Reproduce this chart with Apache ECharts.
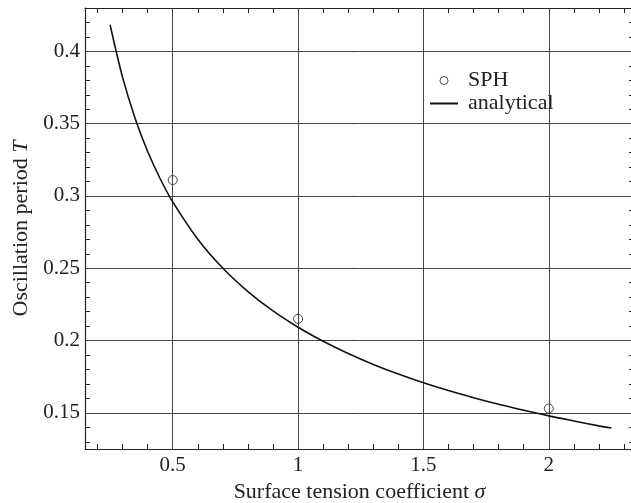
<!DOCTYPE html>
<html>
<head>
<meta charset="utf-8">
<title>Oscillation period</title>
<script src="https://cdn.jsdelivr.net/npm/echarts@6/dist/echarts.min.js"></script>
<style>
  html, body { margin: 0; padding: 0; background: #fff; }
  #chart { width: 631px; height: 503px; }
</style>
</head>
<body>
<div id="chart"></div>
<script>
// analytical curve
const sigma = [0.25, 0.3, 0.35, 0.4, 0.45, 0.5, 0.6, 0.7, 0.8, 0.9, 1.0, 1.1, 1.2, 1.3, 1.4, 1.5, 1.6, 1.7, 1.8, 1.9, 2.0, 2.1, 2.2, 2.25];
const analytical = [0.4184, 0.382, 0.3536, 0.3308, 0.3119, 0.2959, 0.2701, 0.25, 0.2339, 0.2205, 0.2092, 0.1995, 0.191, 0.1835, 0.1768, 0.1708, 0.1654, 0.1605, 0.1559, 0.1518, 0.1479, 0.1444, 0.141, 0.1395];

// SPH points
const sphSigma = [0.5, 1, 2];
const sphPeriod = [0.311, 0.215, 0.153];

const xTicks = [0.5, 1, 1.5, 2];
const xMinorTicks = [0.2, 0.3, 0.4, 0.6, 0.7, 0.8, 0.9, 1.1, 1.2, 1.3, 1.4, 1.6, 1.7, 1.8, 1.9, 2.1, 2.2, 2.3];
const yTicks = [0.15, 0.2, 0.25, 0.3, 0.35, 0.4];
const yMinorTicks = [0.13, 0.14, 0.16, 0.17, 0.18, 0.19, 0.21, 0.22, 0.23, 0.24, 0.26, 0.27, 0.28, 0.29, 0.31, 0.32, 0.33, 0.34, 0.36, 0.37, 0.38, 0.39, 0.41, 0.42];

const xMin = 0.15, xMax = 2.34;
const yMin = 0.125, yMax = 0.43;

const font = '"Liberation Serif", "Times New Roman", serif';
const ink = '#222';
const gridColor = '#444';

const chart = echarts.init(document.getElementById('chart'));

const hidden = { show: false };

const titleStyle = {
  fontFamily: font, fontSize: 22, color: ink,
  rich: { i: { fontFamily: font, fontSize: 22, fontStyle: 'italic', color: ink } }
};

// axis that only draws the small inside ticks
const tickAxis = (position, values, min, max, line) => ({
  type: 'value',
  position: position,
  min: min,
  max: max,
  axisLine: { show: line, onZero: false, lineStyle: { color: ink, width: 1.2 } },
  axisTick: { show: true, inside: true, length: 5, customValues: values, lineStyle: { color: ink } },
  axisLabel: hidden,
  splitLine: hidden
});

const option = {
  animation: false,
  backgroundColor: '#fff',
  grid: { left: 85, top: 8, width: 549, height: 441, containLabel: false, outerBoundsMode: 'none' },
  legend: {
    orient: 'vertical',
    left: 424,
    top: 64,
    itemWidth: 28,
    itemHeight: 8,
    itemGap: 0,
    selectedMode: false,
    textStyle: { fontFamily: font, fontSize: 22, color: ink, lineHeight: 23, padding: [0, 0, 0, 5] },
    data: [
      { name: 'SPH', itemStyle: { color: 'rgba(0,0,0,0)', borderColor: ink, borderWidth: 1 } },
      { name: 'analytical', itemStyle: { color: 'rgba(0,0,0,0)', borderWidth: 0, opacity: 0 } }
    ]
  },
  xAxis: [
    {
      type: 'value',
      position: 'bottom',
      min: xMin,
      max: xMax,
      name: 'Surface tension coefficient {i|σ}',
      nameLocation: 'middle',
      nameGap: 28,
      nameTextStyle: titleStyle,
      axisLine: { show: true, onZero: false, lineStyle: { color: ink, width: 1.2 } },
      axisTick: { show: false, customValues: xTicks },
      axisLabel: { customValues: xTicks, fontFamily: font, fontSize: 21, color: ink, margin: 6 },
      splitLine: { show: true, lineStyle: { color: gridColor, width: 1 } }
    },
    tickAxis('bottom', xMinorTicks, xMin, xMax, false),
    tickAxis('top', xMinorTicks, xMin, xMax, true)
  ],
  yAxis: [
    {
      type: 'value',
      position: 'left',
      min: yMin,
      max: yMax,
      name: 'Oscillation period {i|T}',
      nameLocation: 'middle',
      nameRotate: 90,
      nameGap: 49,
      nameTextStyle: titleStyle,
      axisLine: { show: true, onZero: false, lineStyle: { color: ink, width: 1.2 } },
      axisTick: { show: false, customValues: yTicks },
      axisLabel: { customValues: yTicks, fontFamily: font, fontSize: 21, color: ink, margin: 5 },
      splitLine: { show: true, lineStyle: { color: gridColor, width: 1 } }
    },
    tickAxis('left', yMinorTicks, yMin, yMax, false),
    tickAxis('right', yMinorTicks, yMin, yMax, true)
  ],
  series: [
    {
      name: 'analytical',
      type: 'line',
      xAxisIndex: 0,
      yAxisIndex: 0,
      data: sigma.map((s, i) => [s, analytical[i]]),
      smooth: 0.3,
      symbol: 'none',
      itemStyle: { color: '#111' },
      lineStyle: { color: '#111', width: 1.6 },
      z: 3
    },
    {
      name: 'SPH',
      type: 'scatter',
      xAxisIndex: 0,
      yAxisIndex: 0,
      data: sphSigma.map((s, i) => [s, sphPeriod[i]]),
      symbol: 'circle',
      symbolSize: 9,
      itemStyle: { color: 'rgba(0,0,0,0)', borderColor: ink, borderWidth: 1 },
      z: 4
    }
  ]
};

chart.setOption(option);
</script>
</body>
</html>
